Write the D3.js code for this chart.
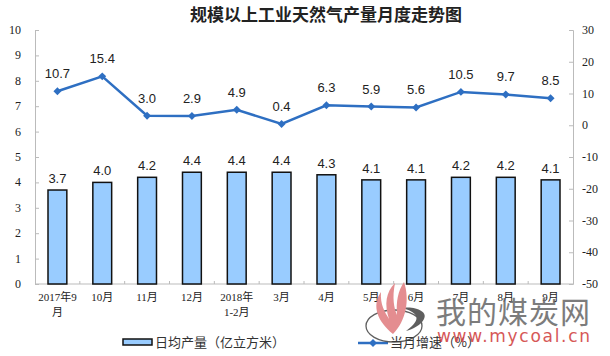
<!DOCTYPE html>
<html>
<head>
<meta charset="utf-8">
<script src="https://cdn.jsdelivr.net/npm/d3@7"></script>
<style>
  body { margin: 0; background: #fff; }
  svg { display: block; }
</style>
</head>
<body>
<div id="chart"></div>
<script>
// data
let months = [["2017年9", "月"], ["10月"], ["11月"], ["12月"], ["2018年", "1-2月"], ["3月"],
    ["4月"], ["5月"], ["6月"], ["7月"], ["8月"], ["9月"]]
let dailyOutput = [3.7, 4.0, 4.2, 4.4, 4.4, 4.4, 4.3, 4.1, 4.1, 4.2, 4.2, 4.1]
let growth = [10.7, 15.4, 3.0, 2.9, 4.9, 0.4, 6.3, 5.9, 5.6, 10.5, 9.7, 8.5]
let leftTicks = [0, 1, 2, 3, 4, 5, 6, 7, 8, 9, 10]
let rightTicks = [-50, -40, -30, -20, -10, 0, 10, 20, 30]

let W = 610, H = 356
let plotLeft = 35, plotRight = 573, plotTop = 30, plotBottom = 284
let barColor = '#99ccff', lineColor = '#2e6fc2'

let svg = d3.select('#chart').append('svg')
    .attr('width', W)
    .attr('height', H)

// title
svg.append('text')
    .attr('x', 326)
    .attr('y', 21)
    .attr('text-anchor', 'middle')
    .attr('font-family', 'Noto Sans CJK SC')
    .attr('font-size', 17)
    .attr('font-weight', 'bold')
    .attr('fill', '#222')
    .text('规模以上工业天然气产量月度走势图')

let x = d3.scaleBand()
    .domain(d3.range(months.length))
    .range([plotLeft, plotRight])
    .paddingInner(0.58)
    .paddingOuter(0.29)

let xFull = d3.scaleBand()
    .domain(d3.range(months.length))
    .range([plotLeft, plotRight])

let y = d3.scaleLinear().domain([0, 10]).range([plotBottom, plotTop])
let y2 = d3.scaleLinear().domain([-50, 30]).range([plotBottom, plotTop])

// left axis
let yAxis = svg.append('g')
    .attr('transform', 'translate(' + plotLeft + ',0)')
    .call(d3.axisRight(y).tickValues(leftTicks).tickSize(4).tickFormat(''))
yAxis.select('.domain').attr('stroke', '#bbb')
yAxis.selectAll('.tick line').attr('stroke', '#bbb')

svg.selectAll('.ly')
    .data(leftTicks)
    .enter()
    .append('text')
    .attr('x', 21)
    .attr('y', function (d) { return y(d) + 4 })
    .attr('text-anchor', 'end')
    .attr('font-family', 'Liberation Serif')
    .attr('font-size', 12)
    .attr('fill', '#222')
    .text(function (d) { return d })

// right axis
let yAxis2 = svg.append('g')
    .attr('transform', 'translate(' + plotRight + ',0)')
    .call(d3.axisLeft(y2).tickValues(rightTicks).tickSize(4).tickFormat(''))
yAxis2.select('.domain').attr('stroke', '#bbb')
yAxis2.selectAll('.tick line').attr('stroke', '#bbb')

svg.selectAll('.ry')
    .data(rightTicks)
    .enter()
    .append('text')
    .attr('x', 582)
    .attr('y', function (d) { return y2(d) + 4 })
    .attr('font-family', 'Liberation Serif')
    .attr('font-size', 12)
    .attr('fill', '#222')
    .text(function (d) { return d })

// bottom axis with small ticks between categories
svg.append('line')
    .attr('x1', plotLeft).attr('x2', plotRight)
    .attr('y1', plotBottom).attr('y2', plotBottom)
    .attr('stroke', '#bbb')
svg.selectAll('.xt')
    .data(d3.range(1, months.length))
    .enter()
    .append('line')
    .attr('x1', function (d) { return xFull(d) })
    .attr('x2', function (d) { return xFull(d) })
    .attr('y1', plotBottom)
    .attr('y2', plotBottom - 3)
    .attr('stroke', '#bbb')

// bars
svg.selectAll('.bar')
    .data(dailyOutput)
    .enter()
    .append('rect')
    .attr('x', function (d, i) { return x(i) })
    .attr('y', function (d) { return y(d) })
    .attr('width', x.bandwidth())
    .attr('height', function (d) { return plotBottom - y(d) })
    .attr('fill', barColor)
    .attr('stroke', '#111')
    .attr('stroke-width', 1.5)

svg.selectAll('.barlabel')
    .data(dailyOutput)
    .enter()
    .append('text')
    .attr('x', function (d, i) { return x(i) + x.bandwidth() / 2 })
    .attr('y', function (d) { return y(d) - 7 })
    .attr('text-anchor', 'middle')
    .attr('font-family', 'Liberation Sans')
    .attr('font-size', 13)
    .attr('fill', '#222')
    .text(function (d) { return d.toFixed(1) })

// growth line
let cx = function (d, i) { return xFull(i) + xFull.bandwidth() / 2 }
let line = d3.line()
    .x(cx)
    .y(function (d) { return y2(d) })

svg.append('path')
    .datum(growth)
    .attr('d', line)
    .attr('fill', 'none')
    .attr('stroke', lineColor)
    .attr('stroke-width', 2.5)

svg.selectAll('.pt')
    .data(growth)
    .enter()
    .append('path')
    .attr('d', d3.symbol(d3.symbolDiamond2, 40))
    .attr('transform', function (d, i) { return 'translate(' + cx(d, i) + ',' + y2(d) + ')' })
    .attr('fill', lineColor)

svg.selectAll('.ptlabel')
    .data(growth)
    .enter()
    .append('text')
    .attr('x', cx)
    .attr('y', function (d) { return y2(d) - 13 })
    .attr('text-anchor', 'middle')
    .attr('font-family', 'Liberation Sans')
    .attr('font-size', 13)
    .attr('fill', '#222')
    .text(function (d) { return d.toFixed(1) })

// category labels
let xl = svg.selectAll('.xl')
    .data(months)
    .enter()
    .append('text')
    .attr('text-anchor', 'middle')
    .attr('font-family', 'Liberation Serif, Noto Sans CJK SC')
    .attr('font-size', 11)
    .attr('fill', '#222')
xl.selectAll('tspan')
    .data(function (d, i) { return d.map(function (s) { return { s: s, i: i } }) })
    .enter()
    .append('tspan')
    .attr('x', function (d) { return xFull(d.i) + xFull.bandwidth() / 2 })
    .attr('y', function (d, j) { return 301 + j * 15 })
    .text(function (d) { return d.s })

// legend
svg.append('rect')
    .attr('x', 123).attr('y', 339)
    .attr('width', 29).attr('height', 6)
    .attr('fill', barColor)
    .attr('stroke', '#111')
    .attr('stroke-width', 1.5)
svg.append('text')
    .attr('x', 155).attr('y', 347)
    .attr('font-family', 'Noto Sans CJK SC')
    .attr('font-size', 13)
    .attr('fill', '#333')
    .text('日均产量（亿立方米）')

svg.append('line')
    .attr('x1', 358).attr('x2', 388)
    .attr('y1', 343).attr('y2', 343)
    .attr('stroke', lineColor)
    .attr('stroke-width', 2.5)
svg.append('path')
    .attr('d', d3.symbol(d3.symbolDiamond2, 40))
    .attr('transform', 'translate(373,343)')
    .attr('fill', lineColor)
svg.append('text')
    .attr('x', 390).attr('y', 347)
    .attr('font-family', 'Noto Sans CJK SC')
    .attr('font-size', 13)
    .attr('fill', '#333')
    .text('当月增速（%）')

// watermark logo and site name
let wm = svg.append('g').attr('opacity', 0.85)
wm.append('ellipse')
    .attr('cx', 394).attr('cy', 326)
    .attr('rx', 28).attr('ry', 16)
    .attr('fill', 'none')
    .attr('stroke', '#444')
    .attr('stroke-width', 1.3)
wm.append('path')
    .attr('d', 'M402,308 C416,306 428,312 424,319 C421,325 413,329 406,331 C414,325 418,320 416,316 C414,312 409,310 402,308 Z')
    .attr('fill', '#444')
wm.append('path')
    .attr('d', 'M393,334 C378,322 371,306 381,292 C380,305 385,312 389,319 C384,304 386,292 395,283 C392,298 394,308 397,315 C396,301 398,291 404,282 C410,300 406,321 393,334 Z')
    .attr('fill', '#e07a7d')
wm.append('text')
    .attr('x', 436).attr('y', 323)
    .attr('font-family', 'Noto Sans CJK SC')
    .attr('font-size', 30)
    .attr('fill', '#666')
    .attr('textLength', 154)
    .text('我的煤炭网')
wm.append('text')
    .attr('x', 437).attr('y', 342)
    .attr('font-family', 'DejaVu Sans')
    .attr('font-size', 17)
    .attr('fill', '#d03a3a')
    .attr('textLength', 153)
    .text('www.mycoal.cn')
</script>
</body>
</html>
